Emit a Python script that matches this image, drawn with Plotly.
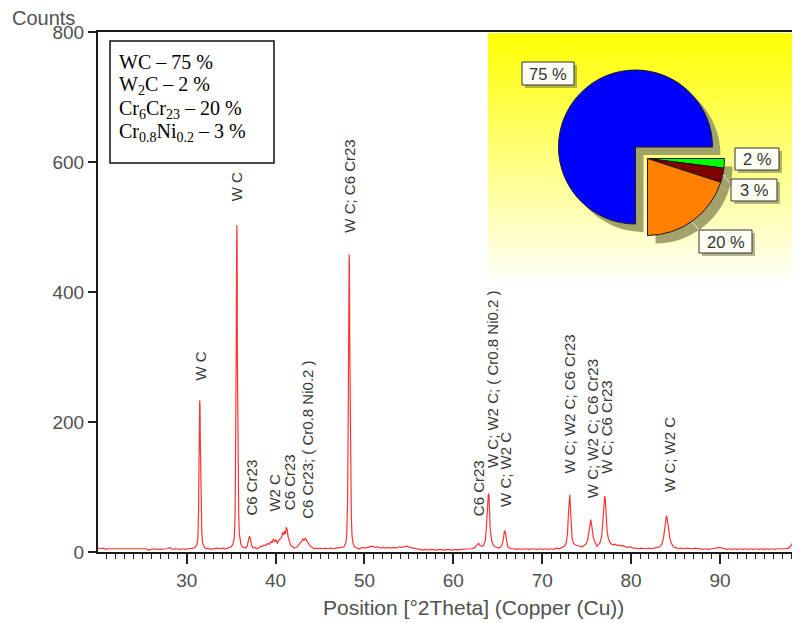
import plotly.graph_objects as go

# ---------------- data ----------------
two_theta = [
    20.0, 20.3, 20.6, 20.9, 21.2, 21.5, 21.8, 22.1, 22.4, 22.7,
    23.0, 23.3, 23.6, 23.9, 24.2, 24.5, 24.8, 25.1, 25.4, 25.7,
    26.0, 26.3, 26.6, 26.9, 27.2, 27.5, 27.8, 28.1, 28.4, 28.7,
    29.0, 29.3, 29.6, 29.9, 30.2, 30.5, 30.8, 31.0, 31.15, 31.25,
    31.33, 31.38, 31.42, 31.46, 31.50, 31.53, 31.57, 31.61, 31.65, 31.70,
    31.78, 31.88, 32.0, 32.2, 32.4, 32.6, 32.9, 33.2, 33.5, 33.8,
    34.1, 34.4, 34.7, 35.0, 35.2, 35.35, 35.45, 35.52, 35.57, 35.61,
    35.64, 35.67, 35.70, 35.73, 35.76, 35.80, 35.85, 35.92, 36.0, 36.1,
    36.25, 36.4, 36.6, 36.8, 36.95, 37.05, 37.15, 37.3, 37.5, 37.7,
    37.9, 38.1, 38.3, 38.5, 38.7, 38.9, 39.1, 39.3, 39.5, 39.6,
    39.75, 39.9, 40.05, 40.2, 40.35, 40.5, 40.65, 40.8, 40.9, 41.0,
    41.1, 41.2, 41.3, 41.4, 41.55, 41.7, 41.9, 42.1, 42.3, 42.5,
    42.7, 42.9, 43.05, 43.2, 43.35, 43.5, 43.65, 43.8, 44.0, 44.2,
    44.4, 44.6, 44.8, 45.0, 45.3, 45.6, 45.9, 46.2, 46.5, 46.8,
    47.1, 47.4, 47.7, 47.9, 48.0, 48.1, 48.16, 48.21, 48.25, 48.28,
    48.31, 48.34, 48.38, 48.42, 48.46, 48.52, 48.6, 48.7, 48.85, 49.0,
    49.2, 49.4, 49.6, 49.8, 50.0, 50.3, 50.6, 50.9, 51.2, 51.5,
    51.8, 52.1, 52.4, 52.7, 53.0, 53.3, 53.6, 53.9, 54.2, 54.5,
    54.8, 55.1, 55.4, 55.7, 56.0, 56.3, 56.6, 56.9, 57.2, 57.5,
    57.8, 58.1, 58.4, 58.7, 59.0, 59.3, 59.6, 59.9, 60.2, 60.5,
    60.8, 61.1, 61.4, 61.7, 62.0, 62.3, 62.5, 62.7, 62.85, 63.0,
    63.2, 63.4, 63.6, 63.75, 63.85, 63.93, 64.0, 64.07, 64.15, 64.3,
    64.5, 64.7, 64.9, 65.1, 65.3, 65.5, 65.65, 65.75, 65.85, 65.95,
    66.1, 66.3, 66.5, 66.8, 67.1, 67.4, 67.7, 68.0, 68.3, 68.6,
    68.9, 69.2, 69.5, 69.8, 70.1, 70.4, 70.7, 71.0, 71.3, 71.6,
    71.9, 72.2, 72.5, 72.7, 72.85, 72.95, 73.03, 73.1, 73.17, 73.25,
    73.35, 73.5, 73.7, 73.9, 74.1, 74.3, 74.5, 74.7, 74.9, 75.1,
    75.25, 75.38, 75.47, 75.55, 75.65, 75.75, 75.85, 76.0, 76.15, 76.3,
    76.5, 76.7, 76.85, 76.95, 77.03, 77.1, 77.2, 77.3, 77.45, 77.6,
    77.8, 78.0, 78.2, 78.4, 78.6, 78.8, 79.0, 79.3, 79.6, 79.9,
    80.2, 80.5, 80.8, 81.1, 81.4, 81.7, 82.0, 82.3, 82.6, 82.9,
    83.2, 83.45, 83.65, 83.8, 83.9, 83.98, 84.05, 84.15, 84.25, 84.35,
    84.5, 84.7, 84.9, 85.1, 85.4, 85.7, 86.0, 86.3, 86.6, 86.9,
    87.2, 87.5, 87.8, 88.1, 88.4, 88.7, 89.0, 89.3, 89.6, 89.9,
    90.2, 90.5, 90.8, 91.1, 91.4, 91.7, 92.0, 92.3, 92.6, 92.9,
    93.2, 93.5, 93.8, 94.1, 94.4, 94.7, 95.0, 95.3, 95.6, 95.9,
    96.2, 96.5, 96.8, 97.1, 97.4, 97.7, 97.9, 98.1, 98.3, 98.45,
    98.6, 98.75, 98.9, 99.0,
]
counts = [
    6, 5, 6, 4, 5, 5, 4, 5, 4, 5,
    4, 5, 4, 5, 4, 5, 4, 4, 5, 3,
    4, 5, 4, 4, 5, 4, 5, 7, 4, 5,
    4, 4, 5, 4, 5, 5, 6, 8, 12, 20,
    60, 130, 200, 233, 226, 170, 125, 120, 70, 30,
    14, 9, 7, 5, 6, 4, 5, 5, 6, 5,
    6, 5, 6, 8, 12, 22, 60, 150, 300, 450,
    503, 480, 300, 190, 180, 120, 60, 28, 18, 12,
    8, 7, 6, 9, 16, 24, 22, 10, 6, 7,
    5, 6, 9, 8, 11, 10, 13, 12, 16, 14,
    20, 16, 19, 13, 18, 20, 22, 30, 26, 32,
    28, 38, 35, 24, 16, 10, 8, 6, 7, 9,
    13, 16, 20, 18, 21, 17, 13, 11, 8, 6,
    5, 6, 5, 6, 5, 6, 5, 6, 5, 6,
    6, 7, 8, 14, 25, 80, 180, 320, 430, 458,
    440, 330, 240, 180, 110, 55, 25, 14, 9, 7,
    6, 5, 6, 7, 6, 7, 8, 9, 7, 8,
    6, 7, 6, 7, 6, 7, 6, 8, 7, 8,
    9, 7, 6, 5, 4, 4, 3, 4, 3, 4,
    3, 3, 4, 3, 3, 4, 3, 3, 4, 3,
    4, 4, 5, 4, 5, 6, 8, 12, 13, 10,
    9, 10, 18, 45, 75, 88, 90, 60, 35, 18,
    10, 8, 7, 6, 7, 12, 22, 33, 30, 18,
    9, 6, 5, 5, 4, 5, 4, 5, 4, 4,
    5, 4, 4, 5, 4, 5, 4, 5, 4, 6,
    5, 7, 9, 14, 30, 60, 85, 88, 70, 40,
    22, 14, 11, 10, 9, 9, 8, 10, 12, 18,
    30, 45, 50, 42, 30, 22, 18, 12, 9, 11,
    14, 25, 50, 75, 86, 80, 55, 32, 20, 15,
    12, 11, 12, 10, 11, 9, 10, 8, 7, 8,
    6, 6, 5, 6, 5, 5, 6, 5, 6, 7,
    8, 12, 22, 38, 50, 56, 52, 40, 30, 22,
    14, 9, 7, 6, 5, 6, 5, 6, 5, 5,
    6, 5, 5, 4, 5, 4, 5, 5, 6, 7,
    6, 5, 4, 5, 4, 5, 4, 5, 4, 5,
    4, 5, 4, 5, 4, 5, 4, 5, 4, 5,
    4, 5, 5, 4, 5, 6, 8, 12, 20, 28,
    34, 38, 40, 41,
]

# peak identification labels: position, bottom of label (counts), text
label_pos = [31.5, 35.65, 37.35, 39.93, 41.6, 43.65, 48.3, 62.77, 64.34, 65.92,
             73.1, 75.6, 77.28, 84.25, 98.76]
label_base = [260, 537, 53, 59, 61, 48, 488, 52, 126, 67,
              118, 79, 118, 90, 64]
label_text = ["W C", "W C", "C6 Cr23", "W2 C", "C6 Cr23",
              "C6 Cr23; ( Cr0.8 Ni0.2 )", "W C; C6 Cr23", "C6 Cr23",
              "W C; W2 C; ( Cr0.8 Ni0.2 )", "W C; W2 C",
              "W C; W2 C; C6 Cr23", "W C; W2 C; C6 Cr23", "W C; C6 Cr23",
              "W C; W2 C", "W C"]

# phase composition (pie)
phase_names = ["W2C", "Cr0.8Ni0.2", "Cr6Cr23", "WC"]
phase_pct = [2, 3, 20, 75]
phase_colors = ["#00ff00", "#800000", "#ff8000", "#0000ff"]
pct_labels = ["2 %", "3 %", "20 %", "75 %"]

legend_lines = ["WC – 75 %", "W<sub>2</sub>C – 2 %",
                "Cr<sub>6</sub>Cr<sub>23</sub> – 20 %",
                "Cr<sub>0.8</sub>Ni<sub>0.2</sub> – 3 %"]

x_ticks = [30, 40, 50, 60, 70, 80, 90]
y_ticks = [0, 200, 400, 600, 800]

# ---------------- geometry helpers (target pixel -> paper) ----------------
# the page body adds an 8 px offset; targets below are in screen pixels
OFF = 8
L, R, T, B = 98, 800, 32, 552
W, H = R - L, B - T
FIG_W, FIG_H = 800, 623


def fx(px):
    return (px - L) / W


def fy(py):
    return (B - py) / H


SANS = "Liberation Sans, Arial, sans-serif"
SERIF = "Liberation Serif, Times New Roman, serif"

fig = go.Figure()
fig.add_trace(go.Scatter(x=two_theta, y=counts, mode="lines",
                         line=dict(color="rgba(255,0,0,0.8)", width=1.2),
                         hoverinfo="skip", showlegend=False))

TR = "rgba(0,0,0,0)"
SH = "#a2a26a"


def pie_dom(cx, cy, r):
    return dict(x=[fx(cx - r), fx(cx + r)], y=[fy(cy + r), fy(cy - r)])


r = 77
blue_c = (635.5, 147.0)
quad_c = (647.5, 158.5)
off = 8

pie_specs = [
    (blue_c[0] + off, blue_c[1] + off, [TR, TR, TR, SH], [0, 0, 0, 0]),
    (quad_c[0] + off, quad_c[1] + off, [SH, SH, SH, TR], [0, 0, 0, 0]),
    (blue_c[0], blue_c[1], [TR, TR, TR, phase_colors[3]], [0, 0, 0, 1]),
    (quad_c[0], quad_c[1], phase_colors[:3] + [TR], [1, 1, 1, 0]),
]
for cx, cy, cols, lws in pie_specs:
    fig.add_trace(go.Pie(values=phase_pct, labels=phase_names, sort=False,
                         direction="clockwise", rotation=90,
                         marker=dict(colors=cols,
                                     line=dict(color="#1a1a1a", width=lws)),
                         textinfo="none", hoverinfo="skip", showlegend=False,
                         domain=pie_dom(cx, cy, r)))

shapes = []
# yellow gradient panel
y0, y1 = 33, 279
nb = 41
for i in range(nb):
    ya = y0 + (y1 - y0) * i / nb
    yb = y0 + (y1 - y0) * (i + 1) / nb
    bch = int(round(246 * (i + 0.5) / nb))
    shapes.append(dict(type="rect", xref="paper", yref="paper", layer="below",
                       x0=fx(488), x1=fx(801), y0=fy(yb + 0.5), y1=fy(ya),
                       line=dict(width=0), fillcolor=f"rgb(255,255,{bch})"))

# legend text box
shapes.append(dict(type="rect", xref="paper", yref="paper", layer="above",
                   x0=fx(110), x1=fx(274), y0=fy(163), y1=fy(41),
                   line=dict(color="#111111", width=1.5), fillcolor="white"))

# leader lines for pie labels
for (xa, ya_, xb, yb_) in [(574, 84, 581, 92), (726, 162, 736, 160),
                           (723, 175, 731, 184), (692, 222, 700, 231)]:
    shapes.append(dict(type="line", xref="paper", yref="paper", layer="above",
                       x0=fx(xa), y0=fy(ya_), x1=fx(xb), y1=fy(yb_),
                       line=dict(color="rgba(235,235,235,0.9)", width=1)))

# pie label boxes (2 %, 3 %, 20 %, 75 %)
pct_boxes = [(735, 148, 779, 170), (731, 179, 777, 201),
             (699, 230, 752, 253), (522, 62, 574, 85)]
for (xa, ya_, xb, yb_) in pct_boxes:
    shapes.append(dict(type="rect", xref="paper", yref="paper", layer="above",
                       x0=fx(xa + 3), x1=fx(xb + 3), y0=fy(yb_ + 3), y1=fy(ya_ + 3),
                       line=dict(width=0), fillcolor="rgba(90,90,60,0.45)"))
    shapes.append(dict(type="rect", xref="paper", yref="paper", layer="above",
                       x0=fx(xa), x1=fx(xb), y0=fy(yb_), y1=fy(ya_),
                       line=dict(color="#333333", width=1), fillcolor="#fefef4"))

annotations = []
for (xa, ya_, xb, yb_), t in zip(pct_boxes, pct_labels):
    annotations.append(dict(xref="paper", yref="paper", x=fx((xa + xb) / 2),
                            y=fy((ya_ + yb_) / 2), text=t, showarrow=False,
                            xanchor="center", yanchor="middle",
                            font=dict(family=SANS, size=16.5, color="#333333")))

for i, t in enumerate(legend_lines):
    annotations.append(dict(xref="paper", yref="paper", x=fx(117),
                            y=fy(62 + 23.5 * i), text=t, showarrow=False,
                            xanchor="left", yanchor="middle",
                            font=dict(family=SERIF, size=20, color="black")))

for xp, yb, t in zip(label_pos, label_base, label_text):
    annotations.append(dict(xref="x", yref="y", x=xp, y=yb, text=t,
                            showarrow=False, textangle=-90,
                            xanchor="center", yanchor="bottom",
                            font=dict(family=SANS, size=15, color="#383838")))

annotations.append(dict(xref="paper", yref="paper", x=fx(43.5), y=fy(18),
                        text="Counts", showarrow=False, xanchor="center",
                        yanchor="middle",
                        font=dict(family=SANS, size=20, color="#505050")))
annotations.append(dict(xref="paper", yref="paper", x=fx(473.5), y=fy(607),
                        text="Position [°2Theta] (Copper (Cu))",
                        showarrow=False, xanchor="center", yanchor="middle",
                        font=dict(family=SANS, size=21, color="#505050")))

fig.update_layout(
    width=FIG_W, height=FIG_H,
    margin=dict(l=L - OFF, r=FIG_W - (R - OFF), t=T - OFF,
                b=FIG_H - (B - OFF), pad=0),
    paper_bgcolor="white", plot_bgcolor="white",
    showlegend=False,
    shapes=shapes, annotations=annotations,
    xaxis=dict(range=[20.02, 99.0], tickvals=x_ticks, ticks="outside",
               ticklen=10, tickwidth=1.5, tickcolor="#222222",
               showline=True, linecolor="#1a1a1a", linewidth=2, mirror=True,
               showgrid=False, zeroline=False,
               tickfont=dict(family=SANS, size=19, color="#505050"),
               minor=dict(dtick=1, tick0=0, ticks="outside", ticklen=5,
                          tickwidth=1, tickcolor="#222222", showgrid=False)),
    yaxis=dict(range=[0, 800], tickvals=y_ticks, ticks="outside",
               ticklen=8, tickwidth=1.5, tickcolor="#222222",
               showline=True, linecolor="#1a1a1a", linewidth=2,
               showgrid=False, zeroline=False,
               tickfont=dict(family=SANS, size=19, color="#505050")),
)

fig.write_html("out.html")
